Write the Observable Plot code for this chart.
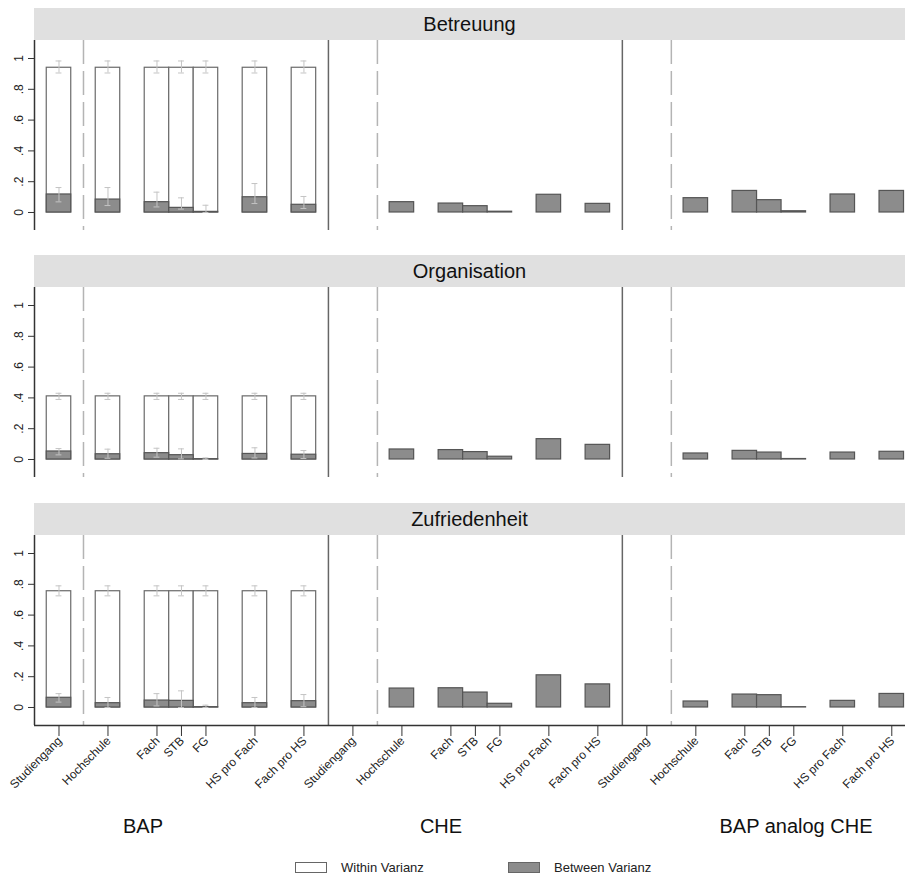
<!DOCTYPE html>
<html>
<head>
<meta charset="utf-8">
<script src="https://cdn.jsdelivr.net/npm/d3@7"></script>
<script src="https://cdn.jsdelivr.net/npm/@observablehq/plot@0.6"></script>
<style>
  body { margin: 0; background: #fff; font-family: "Liberation Sans", Arial, sans-serif; }
  #wrap { position: relative; width: 905px; height: 875px; overflow: hidden; background: #fff; }
  .strip { position: absolute; left: 34px; width: 871px; height: 32px; background: #e0e0e0;
           display: flex; align-items: center; justify-content: center; font-size: 20px; color: #111; }
  .plot { position: absolute; left: 0; }
  .glabel { position: absolute; font-size: 20px; color: #111; transform: translateX(-50%); white-space: nowrap; }
  .legend { position: absolute; top: 860px; font-size: 13px; color: #222; display: flex; align-items: center; }
  .key { display: inline-block; width: 30px; height: 9px; border: 1px solid #666; margin-right: 14px; }
</style>
</head>
<body>
<div id="wrap"></div>
<script>
// ---------- data ----------
const panels = ["Betreuung", "Organisation", "Zufriedenheit"];
const groups = ["BAP", "CHE", "BAP analog CHE"];
const levels = ["Studiengang", "Hochschule", "Fach", "STB", "FG", "HS pro Fach", "Fach pro HS"];
const levelTicks = [1, 2, 3, 3.5, 4, 5, 6];     // category positions inside a group
const groupOffset = [0, 6, 12];                  // group start on the x axis

// Within variance (BAP only) and its interval, per panel
const withinBAP = [0.94, 0.41, 0.755];
const withinLo  = [0.906, 0.39, 0.725];
const withinHi  = [0.984, 0.43, 0.79];

// Between variance, per panel, per group (null = not estimated)
const betweenBetreuungBAP    = [0.117, 0.084, 0.067, 0.030, 0.004, 0.099, 0.050];
const betweenBetreuungCHE    = [null, 0.067, 0.058, 0.041, 0.005, 0.115, 0.056];
const betweenBetreuungANA    = [null, 0.093, 0.140, 0.080, 0.008, 0.117, 0.140];
const betweenOrganisationBAP = [0.052, 0.034, 0.041, 0.028, 0.002, 0.036, 0.031];
const betweenOrganisationCHE = [null, 0.065, 0.061, 0.048, 0.018, 0.132, 0.095];
const betweenOrganisationANA = [null, 0.039, 0.056, 0.045, 0.003, 0.045, 0.050];
const betweenZufriedenBAP    = [0.063, 0.028, 0.045, 0.043, 0.002, 0.028, 0.041];
const betweenZufriedenCHE    = [null, 0.123, 0.125, 0.097, 0.024, 0.209, 0.150];
const betweenZufriedenANA    = [null, 0.039, 0.084, 0.080, 0.002, 0.043, 0.088];

// Between-variance intervals (BAP only)
const betweenLoBetreuung    = [0.069, 0.045, 0.036, 0.022, 0.000, 0.058, 0.026];
const betweenHiBetreuung    = [0.162, 0.162, 0.132, 0.095, 0.047, 0.188, 0.104];
const betweenLoOrganisation = [0.030, 0.008, 0.015, 0.004, 0.000, 0.010, 0.006];
const betweenHiOrganisation = [0.071, 0.067, 0.073, 0.069, 0.010, 0.076, 0.058];
const betweenLoZufrieden    = [0.035, 0.000, 0.010, 0.000, 0.000, 0.000, 0.005];
const betweenHiZufrieden    = [0.090, 0.065, 0.090, 0.108, 0.015, 0.065, 0.084];

const yTicks = [0, 0.2, 0.4, 0.6, 0.8, 1];

const between = [
  [betweenBetreuungBAP, betweenBetreuungCHE, betweenBetreuungANA],
  [betweenOrganisationBAP, betweenOrganisationCHE, betweenOrganisationANA],
  [betweenZufriedenBAP, betweenZufriedenCHE, betweenZufriedenANA]
];
const betweenLo = [betweenLoBetreuung, betweenLoOrganisation, betweenLoZufrieden];
const betweenHi = [betweenHiBetreuung, betweenHiOrganisation, betweenHiZufrieden];

// ---------- build ----------
const wrap = document.getElementById("wrap");
const HALF = 0.25, CAP = 0.06;
const stripTops = [8, 255, 503];
const plotTops = [40, 287, 535];
const PH = 190;

const allTicks = [];
groupOffset.forEach((g) => levelTicks.forEach((t, j) => allTicks.push({x: g + t, label: levels[j]})));
const solidSeps = [groupOffset[1] + 0.5, groupOffset[2] + 0.5];
const dashedSeps = groupOffset.map(g => g + 1.5);

const fmt = d => d === 0 ? "0" : d === 1 ? "1" : String(+d.toFixed(1)).replace(/^0\./, ".");

panels.forEach((pname, pi) => {
  const strip = document.createElement("div");
  strip.className = "strip";
  strip.style.top = stripTops[pi] + "px";
  strip.textContent = pname;
  wrap.appendChild(strip);

  const within = [];
  const bars = [];
  const errs = [];
  groups.forEach((gname, gi) => {
    levels.forEach((lv, j) => {
      const x = groupOffset[gi] + levelTicks[j];
      const v = between[pi][gi][j];
      if (gi === 0) {
        within.push({x, v: withinBAP[pi]});
        errs.push({x, lo: withinLo[pi], hi: withinHi[pi]});
        errs.push({x, lo: betweenLo[pi][j], hi: betweenHi[pi][j]});
      }
      if (v != null) bars.push({x, v});
    });
  });

  const last = pi === panels.length - 1;
  const mb = last ? 95 : 0;
  const chart = Plot.plot({
    width: 905,
    height: PH + mb,
    marginLeft: 34, marginRight: 0, marginTop: 0, marginBottom: mb,
    style: {fontFamily: "'Liberation Sans', Arial, sans-serif", fontSize: "12px", background: "transparent", overflow: "visible"},
    x: {domain: [0.5, 18.28], axis: null},
    y: {domain: [-0.117, 1.117], axis: null},
    marks: [
      Plot.ruleX(dashedSeps, {stroke: "#b4b4b4", strokeWidth: 1.5, strokeDasharray: "24,7"}),
      Plot.ruleX(solidSeps, {stroke: "#666", strokeWidth: 1.5}),
      Plot.rectY(within, {x1: d => d.x - HALF, x2: d => d.x + HALF, y1: 0, y2: "v", fill: "white", stroke: "#6a6a6a", strokeWidth: 1.2}),
      Plot.rectY(bars, {x1: d => d.x - HALF, x2: d => d.x + HALF, y1: 0, y2: "v", fill: "#8c8c8c", stroke: "#555", strokeWidth: 1.2}),
      Plot.ruleX(errs, {x: "x", y1: "lo", y2: "hi", stroke: "#c4c4c4", strokeWidth: 1}),
      Plot.ruleY(errs, {y: "hi", x1: d => d.x - CAP, x2: d => d.x + CAP, stroke: "#c4c4c4", strokeWidth: 1}),
      Plot.ruleY(errs, {y: "lo", x1: d => d.x - CAP, x2: d => d.x + CAP, stroke: "#c4c4c4", strokeWidth: 1}),
      Plot.axisY({ticks: yTicks, tickFormat: fmt, tickSize: 6, tickPadding: 6, tickRotate: -90, label: null, stroke: "#333", fill: "#222", fontSize: 12}),
      Plot.ruleX([0.5], {stroke: "#333", strokeWidth: 1.5}),
      ...(last ? [
        Plot.ruleY([-0.117], {stroke: "#333", strokeWidth: 1.5}),
        Plot.axisX({ticks: allTicks.map(d => d.x), tickSize: 11, tickFormat: () => "", label: null, stroke: "#333"}),
        Plot.text(allTicks, {x: d => d.x + 0.07, frameAnchor: "bottom", dy: 16, text: "label", rotate: -45, textAnchor: "end", fill: "#222", fontSize: 12})
      ] : [])
    ]
  });
  chart.classList.add("plot");
  chart.style.top = plotTops[pi] + "px";
  wrap.appendChild(chart);
});

// group labels
const glx = [143, 441, 796];
groups.forEach((g, i) => {
  const d = document.createElement("div");
  d.className = "glabel";
  d.style.left = glx[i] + "px";
  d.style.top = "815px";
  d.textContent = g;
  wrap.appendChild(d);
});

// legend
const legendItems = [{label: "Within Varianz", fill: "#fff", left: 295}, {label: "Between Varianz", fill: "#8c8c8c", left: 508}];
legendItems.forEach(it => {
  const d = document.createElement("div");
  d.className = "legend";
  d.style.left = it.left + "px";
  const k = document.createElement("span");
  k.className = "key";
  k.style.background = it.fill;
  d.appendChild(k);
  d.appendChild(document.createTextNode(it.label));
  wrap.appendChild(d);
});
</script>
</body>
</html>
